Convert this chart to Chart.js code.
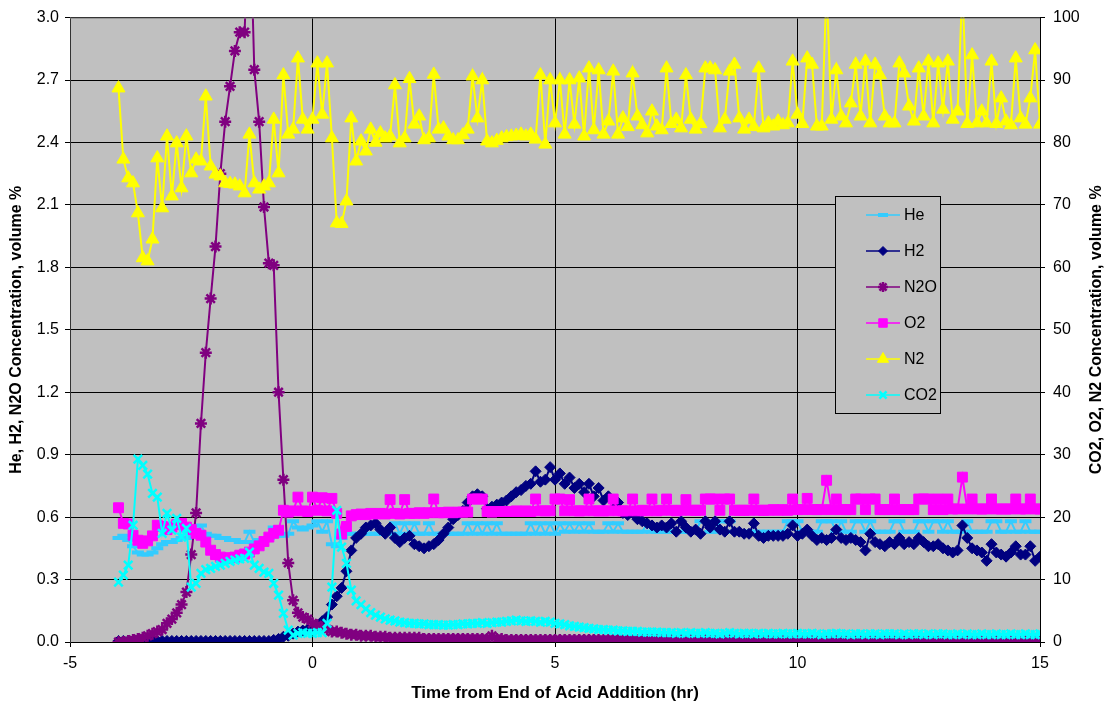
<!DOCTYPE html>
<html>
<head>
<meta charset="utf-8">
<script src="https://cdn.jsdelivr.net/npm/chart.js@4.4.0/dist/chart.umd.min.js"></script>
<style>
  html, body { margin: 0; padding: 0; background: #fff; }
</style>
</head>
<body>
<canvas id="gasChart" width="1108" height="709"></canvas>
<script>
// sample times, hr (every 0.1 hr from -4.0 to 15.0)
const hours = Array.from({ length: 191 }, (_, i) => (i - 40) / 10);

// left axis, volume %
const heVals = [
  0.50,0.51,0.49,0.46,0.43,0.42,0.42,0.43,0.45,0.47,
  0.48,0.48,0.49,0.50,0.50,0.51,0.52,0.56,0.52,0.51,
  0.51,0.50,0.50,0.49,0.49,0.48,0.48,0.53,0.48,0.49,
  0.49,0.50,0.55,0.51,0.51,0.52,0.58,0.55,0.54,0.55,
  0.56,0.58,0.53,0.58,0.47,0.46,0.50,0.52,0.52,0.52,
  0.52,0.52,0.52,0.52,0.52,0.52,0.52,0.57,0.52,0.57,
  0.52,0.57,0.52,0.52,0.57,0.52,0.52,0.52,0.52,0.52,
  0.52,0.52,0.57,0.52,0.57,0.52,0.57,0.52,0.57,0.52,
  0.52,0.52,0.52,0.52,0.52,0.57,0.52,0.57,0.52,0.57,
  0.52,0.57,0.53,0.57,0.53,0.57,0.53,0.57,0.53,0.53,
  0.53,0.57,0.53,0.57,0.53,0.53,0.53,0.53,0.53,0.57,
  0.53,0.53,0.53,0.53,0.53,0.53,0.53,0.53,0.53,0.53,
  0.58,0.58,0.53,0.53,0.58,0.58,0.58,0.53,0.53,0.53,
  0.53,0.53,0.53,0.53,0.53,0.53,0.53,0.53,0.58,0.58,
  0.58,0.53,0.53,0.53,0.53,0.58,0.58,0.58,0.53,0.58,
  0.53,0.53,0.58,0.58,0.53,0.58,0.53,0.53,0.53,0.53,
  0.58,0.58,0.53,0.53,0.53,0.58,0.58,0.53,0.58,0.58,
  0.53,0.58,0.53,0.53,0.53,0.58,0.53,0.53,0.53,0.53,
  0.58,0.58,0.53,0.53,0.58,0.53,0.53,0.58,0.53,0.53,
  0.53
];

const h2Vals = [
  0.005,0.005,0.005,0.005,0.005,0.005,0.005,0.005,0.005,0.005,
  0.005,0.005,0.005,0.005,0.005,0.005,0.005,0.005,0.005,0.005,
  0.005,0.005,0.005,0.005,0.005,0.005,0.005,0.005,0.005,0.005,
  0.005,0.005,0.01,0.015,0.025,0.03,0.04,0.05,0.055,0.06,
  0.065,0.08,0.10,0.12,0.18,0.22,0.26,0.34,0.44,0.50,
  0.52,0.55,0.56,0.57,0.54,0.52,0.55,0.50,0.48,0.50,
  0.51,0.47,0.46,0.45,0.46,0.47,0.49,0.52,0.55,0.59,
  0.61,0.63,0.67,0.70,0.71,0.70,0.64,0.65,0.66,0.67,
  0.68,0.70,0.72,0.73,0.75,0.76,0.82,0.77,0.78,0.84,
  0.78,0.81,0.76,0.79,0.74,0.76,0.72,0.76,0.70,0.74,
  0.68,0.70,0.64,0.67,0.62,0.61,0.62,0.59,0.58,0.57,
  0.56,0.55,0.56,0.55,0.57,0.53,0.58,0.55,0.53,0.54,
  0.52,0.58,0.55,0.58,0.54,0.53,0.58,0.53,0.53,0.52,
  0.52,0.57,0.51,0.50,0.51,0.51,0.51,0.51,0.52,0.56,
  0.51,0.52,0.54,0.51,0.49,0.50,0.49,0.50,0.54,0.50,
  0.49,0.50,0.49,0.48,0.44,0.52,0.48,0.47,0.46,0.48,
  0.47,0.50,0.47,0.48,0.47,0.50,0.48,0.46,0.46,0.47,
  0.45,0.44,0.43,0.44,0.56,0.50,0.45,0.44,0.43,0.39,
  0.47,0.43,0.42,0.41,0.43,0.46,0.42,0.42,0.46,0.39,
  0.41
];

const n2oVals = [
  0.00,0.00,0.005,0.01,0.015,0.02,0.03,0.04,0.05,0.06,
  0.09,0.11,0.14,0.18,0.24,0.42,0.62,1.05,1.39,1.65,
  1.90,2.25,2.50,2.67,2.84,2.93,2.93,3.60,2.75,2.50,
  2.09,1.82,1.81,1.20,0.78,0.38,0.20,0.14,0.12,0.11,
  0.09,0.08,0.07,0.06,0.05,0.05,0.045,0.04,0.035,0.035,
  0.03,0.03,0.03,0.025,0.025,0.025,0.02,0.02,0.02,0.02,
  0.02,0.02,0.02,0.015,0.015,0.015,0.015,0.015,0.015,0.015,
  0.015,0.015,0.015,0.015,0.015,0.015,0.015,0.03,0.015,0.015,
  0.01,0.01,0.01,0.01,0.01,0.01,0.01,0.01,0.01,0.01,
  0.01,0.01,0.01,0.01,0.01,0.01,0.01,0.01,0.01,0.01,
  0.01,0.01,0.01,0.01,0.01,0.01,0.01,0.01,0.01,0.01,
  0.01,0.01,0.01,0.01,0.01,0.01,0.01,0.01,0.01,0.01,
  0.01,0.01,0.01,0.01,0.01,0.01,0.01,0.01,0.01,0.01,
  0.01,0.01,0.01,0.01,0.01,0.01,0.01,0.01,0.01,0.01,
  0.01,0.01,0.01,0.01,0.01,0.01,0.01,0.01,0.01,0.01,
  0.01,0.01,0.01,0.01,0.01,0.01,0.01,0.01,0.01,0.01,
  0.01,0.01,0.01,0.01,0.01,0.01,0.01,0.01,0.01,0.01,
  0.01,0.01,0.01,0.01,0.01,0.01,0.01,0.01,0.01,0.01,
  0.01,0.01,0.01,0.01,0.01,0.01,0.01,0.01,0.01,0.01,
  0.01
];

// right axis, volume %
const o2Vals = [
  21.5,19.0,18.9,17.1,16.3,15.8,16.2,17.0,18.7,18.5,
  18.0,18.4,18.8,19.0,18.4,18.0,17.4,17.1,16.0,14.7,
  14.0,13.6,13.4,13.5,13.6,13.9,14.1,14.4,14.9,15.4,
  16.1,16.8,17.4,17.9,21.1,20.8,21.0,23.2,21.0,20.9,
  23.2,21.1,23.1,21.0,23.0,20.6,17.3,18.5,20.2,20.4,
  20.5,20.4,20.6,20.5,20.6,20.5,22.8,20.6,20.5,22.8,
  20.6,20.6,20.7,20.6,20.7,22.9,20.7,20.7,20.8,20.7,
  20.8,20.8,20.8,22.9,22.9,22.9,20.9,20.8,20.9,20.9,
  20.9,20.9,21.0,20.9,21.0,20.9,22.9,21.0,21.0,21.0,
  22.9,22.9,21.0,22.8,21.0,21.0,21.0,22.9,21.0,21.0,
  21.0,21.0,22.9,21.0,21.0,21.0,22.9,21.0,21.1,21.0,
  22.9,21.0,21.1,22.9,21.1,21.0,21.1,22.8,21.1,21.1,
  21.1,22.9,22.9,22.9,21.1,22.9,22.9,21.1,21.1,21.1,
  21.1,22.9,21.1,21.1,21.1,21.2,21.1,21.2,21.1,22.9,
  21.2,21.2,23.0,21.2,21.2,21.2,25.9,21.2,22.9,21.2,
  21.2,21.2,22.9,22.9,21.2,22.9,22.9,21.2,21.2,21.2,
  22.9,21.2,21.2,21.2,21.2,22.9,22.9,22.9,21.2,22.9,
  21.2,22.9,21.3,21.3,26.4,21.3,22.9,21.3,21.3,21.3,
  22.9,21.3,21.3,21.3,21.3,22.9,21.3,21.3,22.9,21.3,
  21.3
];

const n2Vals = [
  88.7,77.3,74.3,73.5,68.7,61.5,61.0,64.5,77.5,69.5,
  81.0,71.4,79.9,72.7,81.0,75.1,77.3,77.0,87.4,76.2,
  74.9,74.6,73.5,73.4,73.3,73.0,71.9,81.3,73.5,72.5,
  73.0,73.5,83.7,75.1,90.8,81.3,82.1,93.5,83.7,82.1,
  83.7,92.7,84.5,92.7,80.7,67.1,67.0,70.6,83.9,77.0,
  80.2,78.6,82.1,80.0,81.5,80.7,81.0,89.2,79.9,80.7,
  90.2,82.9,84.2,80.4,80.7,90.9,82.1,82.3,81.0,80.4,
  80.4,81.2,82.1,90.6,83.9,90.0,80.2,79.9,80.3,80.7,
  80.9,81.0,81.1,81.3,81.0,81.3,80.5,90.8,79.7,90.0,
  83.1,90.0,81.3,90.0,82.9,90.3,81.0,91.9,82.0,91.6,
  81.3,83.4,91.4,81.3,83.9,82.5,91.1,84.2,82.8,81.5,
  85.0,82.6,82.0,91.9,83.0,83.7,82.3,90.8,83.7,82.1,
  83.0,91.9,91.9,91.6,82.3,83.7,91.4,92.5,83.9,82.1,
  83.7,82.5,91.9,82.3,83.1,82.6,83.4,82.8,83.1,93.0,
  84.5,83.0,93.5,92.5,82.6,82.6,105.0,83.7,91.6,84.2,
  83.1,86.3,92.5,84.2,93.0,83.1,92.5,90.8,84.2,83.1,
  83.1,92.7,91.1,85.8,83.4,91.9,84.2,93.0,83.1,92.7,
  85.3,93.0,83.7,85.0,105.0,83.0,94.0,83.1,85.0,83.1,
  93.0,83.0,87.1,83.4,82.8,93.5,83.9,82.9,87.1,94.8,
  82.9
];

const co2Vals = [
  9.6,10.7,12.3,18.7,29.3,28.3,26.9,23.8,23.2,17.4,
  20.6,17.9,19.8,16.8,18.2,8.8,9.4,11.0,11.6,11.8,
  12.1,12.3,12.6,12.9,13.1,13.3,13.4,14.4,12.3,11.8,
  11.2,11.0,9.4,7.5,4.6,1.9,1.1,1.4,1.5,1.4,
  1.4,1.5,1.5,3.0,8.8,21.1,15.2,12.6,8.3,6.6,
  6.0,5.3,4.7,4.3,4.0,3.7,3.5,3.4,3.2,3.1,
  3.0,3.0,2.9,2.9,2.8,2.8,2.8,2.7,2.7,2.8,
  2.8,2.9,2.9,3.0,3.0,3.1,3.0,3.1,3.2,3.2,
  3.3,3.4,3.5,3.4,3.3,3.4,3.3,3.2,3.3,3.2,
  3.0,2.9,2.8,2.6,2.5,2.4,2.3,2.2,2.1,2.0,
  2.0,1.9,1.9,1.8,1.8,1.7,1.7,1.7,1.6,1.6,
  1.6,1.6,1.5,1.5,1.5,1.4,1.5,1.4,1.5,1.4,
  1.4,1.5,1.4,1.4,1.3,1.4,1.5,1.4,1.3,1.4,
  1.4,1.3,1.4,1.3,1.4,1.3,1.3,1.4,1.3,1.3,
  1.4,1.3,1.3,1.4,1.3,1.2,1.3,1.3,1.4,1.3,
  1.3,1.2,1.3,1.3,1.2,1.3,1.3,1.2,1.3,1.3,
  1.3,1.2,1.3,1.2,1.3,1.3,1.2,1.3,1.2,1.3,
  1.3,1.2,1.2,1.3,1.2,1.3,1.2,1.2,1.3,1.2,
  1.2,1.3,1.2,1.2,1.3,1.2,1.2,1.3,1.2,1.2,
  1.3
];

const FONT = "'Liberation Sans', Arial, sans-serif";

function pts(vals) {
  return hours.map((h, i) => ({ x: h, y: vals[i] }));
}

function serie(label, vals, color, style, radius, ptWidth, axis, order) {
  return {
    label,
    data: pts(vals),
    yAxisID: axis,
    borderColor: color,
    backgroundColor: color,
    pointBackgroundColor: color,
    pointBorderColor: color,
    pointStyle: style,
    pointRadius: radius,
    pointBorderWidth: ptWidth,
    borderWidth: 2,
    tension: 0,
    order
  };
}

// gray plot area, right axis title, legend box
const decor = {
  id: "decor",
  beforeDraw(chart) {
    const { ctx, chartArea: a } = chart;
    ctx.save();
    ctx.fillStyle = "#c0c0c0";
    ctx.fillRect(a.left, a.top, a.right - a.left, a.bottom - a.top);
    ctx.restore();
  },
  afterDraw(chart) {
    const { ctx, chartArea: a } = chart;
    ctx.save();
    ctx.strokeStyle = "#808080";
    ctx.lineWidth = 1;
    ctx.beginPath();
    ctx.moveTo(a.left, a.top + 0.5);
    ctx.lineTo(a.right, a.top + 0.5);
    ctx.stroke();

    // right axis title, reads bottom to top
    ctx.translate(1097, (a.top + a.bottom) / 2);
    ctx.rotate(-Math.PI / 2);
    ctx.fillStyle = "#000";
    ctx.font = "bold 16px " + FONT;
    ctx.textAlign = "center";
    ctx.textBaseline = "middle";
    ctx.fillText("CO2, O2, N2 Concentration, volume %", 0, 0);
    ctx.restore();

    // legend
    ctx.save();
    ctx.fillStyle = "#c0c0c0";
    ctx.fillRect(835, 196, 105, 217);
    ctx.strokeStyle = "#000";
    ctx.lineWidth = 1;
    ctx.strokeRect(835.5, 196.5, 105, 217);
    chart.data.datasets.forEach((ds, i) => {
      const y = 215 + i * 36;
      ctx.strokeStyle = ds.borderColor;
      ctx.lineWidth = 1.5;
      ctx.beginPath();
      ctx.moveTo(866, y);
      ctx.lineTo(900, y);
      ctx.stroke();
      ctx.fillStyle = ds.pointBackgroundColor;
      ctx.strokeStyle = ds.pointBorderColor;
      ctx.lineWidth = ds.pointBorderWidth;
      Chart.helpers.drawPoint(ctx, {
        pointStyle: ds.pointStyle,
        radius: ds.pointRadius - 1,
        borderWidth: ds.pointBorderWidth,
        rotation: 0
      }, 883, y);
      ctx.fillStyle = "#000";
      ctx.font = "16px " + FONT;
      ctx.textAlign = "left";
      ctx.textBaseline = "middle";
      ctx.fillText(ds.label, 904, y + 1);
    });
    ctx.restore();
  }
};

new Chart(document.getElementById("gasChart"), {
  type: "line",
  data: {
    datasets: [
      serie("He", heVals, "#33ccff", "line", 6, 4, "y", 6),
      serie("H2", h2Vals, "#000080", "rectRot", 5.5, 1, "y", 5),
      serie("N2O", n2oVals, "#800080", "star", 6, 2.5, "y", 4),
      serie("O2", o2Vals, "#ff00ff", "rect", 7, 1, "y2", 3),
      serie("N2", n2Vals, "#ffff00", "triangle", 7.5, 1, "y2", 2),
      serie("CO2", co2Vals, "#00ffff", "crossRot", 6, 2.5, "y2", 1)
    ]
  },
  options: {
    responsive: false,
    animation: false,
    events: [],
    layout: { padding: { top: 16, left: 0, right: 0, bottom: 0 } },
    plugins: { legend: { display: false }, tooltip: { enabled: false } },
    scales: {
      x: {
        type: "linear",
        min: -5,
        max: 15,
        ticks: { stepSize: 5, color: "#000", font: { family: FONT, size: 16 }, padding: 7, maxRotation: 0 },
        grid: { color: "#000", lineWidth: 1, tickLength: 5 },
        border: { color: "#000" },
        title: {
          display: true,
          text: "Time from End of Acid Addition (hr)",
          color: "#000",
          font: { family: FONT, size: 17, weight: "bold" },
          padding: { top: 0, bottom: 5 }
        },
        afterFit: s => { s.height = 67; }
      },
      y: {
        position: "left",
        min: 0,
        max: 3,
        ticks: { stepSize: 0.3, color: "#000", font: { family: FONT, size: 16 }, padding: 6, callback: v => v.toFixed(1) },
        grid: { color: "#000", lineWidth: 1, tickLength: 5 },
        border: { color: "#333" },
        title: {
          display: true,
          text: "He, H2, N2O Concentration, volume %",
          color: "#000",
          font: { family: FONT, size: 16, weight: "bold" },
          padding: { top: 7, bottom: 0 }
        },
        afterFit: s => { s.width = 70; }
      },
      y2: {
        position: "right",
        min: 0,
        max: 100,
        ticks: { stepSize: 10, color: "#000", font: { family: FONT, size: 16 }, padding: 8 },
        grid: { drawOnChartArea: false, color: "#000", tickLength: 5 },
        border: { color: "#000" },
        afterFit: s => { s.width = 68; }
      }
    }
  },
  plugins: [decor]
});
</script>
</body>
</html>
